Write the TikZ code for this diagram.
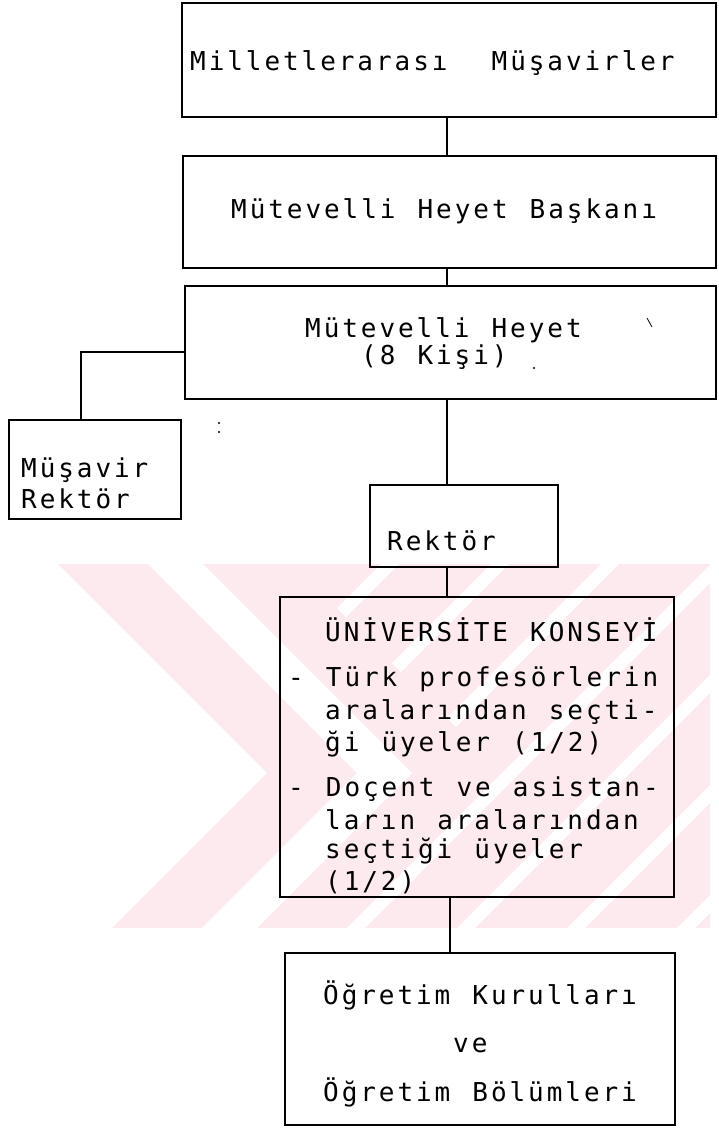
\documentclass[tikz,border=0pt]{standalone}
\usepackage{fontspec}
\newfontfamily\typewriter{DejaVu Sans Mono}[LetterSpace=11.3, WordSpace=1.188]
\definecolor{wmpink}{RGB}{252,234,238}
\begin{document}
\begin{tikzpicture}[x=1pt,y=-1pt,
  box/.style={draw, line width=2.5pt, inner sep=0pt, outer sep=0pt},
  lbl/.style={anchor=base west, inner sep=0pt,
    font=\typewriter\fontsize{26pt}{30pt}\selectfont},
  link/.style={line width=2.2pt}]
\useasboundingbox (0,0) rectangle (718,1129);

% faint striped background band
\fill[wmpink] (58,564) -- (710,564) -- (710,928) -- (112,928) -- (267,773) -- cycle;
\fill[white] (148,564) -- (203,564) -- (412,773) -- (257,928) -- (202,928) -- (357,773) -- cycle;
\begin{scope}
  \clip (293,564) -- (710,564) -- (710,928) -- (347,928) -- (502,773) -- cycle;
  \foreach \xb in {17,127,237,347,457,567,677}
    \fill[white] (\xb,928) -- (\xb+18,928) -- (\xb+382,564) -- (\xb+364,564) -- cycle;
\end{scope}

% boxes
\node[box, minimum width=534pt, minimum height=114pt] (b1) at (449,60) {};
\node[box, minimum width=533pt, minimum height=112pt] (b2) at (449.5,212) {};
\node[box, minimum width=531pt, minimum height=113pt] (b3) at (450.5,342.5) {};
\node[box, minimum width=172pt, minimum height=99pt] (mr) at (95,469.5) {};
\node[box, minimum width=188pt, minimum height=82pt] (rk) at (464,526) {};
\node[box, minimum width=394pt, minimum height=300pt] (uk) at (477,747) {};
\node[box, minimum width=390pt, minimum height=172pt] (ok) at (480,1039) {};

% connectors
\coordinate (cx1) at (447,0);
\coordinate (cx2) at (450,0);
\coordinate (br) at (81,352);
\draw[link] (b1.south -| cx1) -- (b2.north -| cx1);
\draw[link] (b2.south -| cx1) -- (b3.north -| cx1);
\draw[link] (b3.south -| cx1) -- (rk.north -| cx1);
\draw[link] (rk.south -| cx1) -- (uk.north -| cx1);
\draw[link] (uk.south -| cx2) -- (ok.north -| cx2);
\draw[link] (b3.west |- br) -| (mr.north -| br);

% texts
\node[lbl] (t1) at (190,71) {Milletlerarası\ \ Müşavirler};
\node[lbl] (t2) at (231,218) {Mütevelli Heyet Başkanı};
\node[lbl] (t3a) at (305,337) {Mütevelli Heyet};
\node[lbl] (t3b) at (361,364) {(8 Kişi)};
\node[lbl] (t4a) at (21,477) {Müşavir};
\node[lbl] (t4b) at (21,508) {Rektör};
\node[lbl] (t5) at (387,550) {Rektör};
\foreach \x/\y/\s [count=\i] in {
    325/641/{ÜNİVERSİTE KONSEYİ},
    288/686/{- Türk profesörlerin},
    325/719/{aralarından seçti-},
    325/751/{ği üyeler (1/2)},
    288/796/{- Doçent ve asistan-},
    325/829/{ların aralarından},
    325/858/{seçtiği üyeler},
    325/890/{(1/2)}}
  \node[lbl] (k\i) at (\x,\y) {\s};
\node[lbl] (o1) at (323,1004) {Öğretim Kurulları};
\node[lbl] (o2) at (453,1052) {ve};
\node[lbl] (o3) at (323,1101) {Öğretim Bölümleri};

% small specks
\fill (534,368) circle (1.2);
\fill (219,423) circle (1.1);
\fill (219,432) circle (1.1);
\draw[line width=0.8pt] (647,318) -- (652,327);
\end{tikzpicture}
\end{document}
